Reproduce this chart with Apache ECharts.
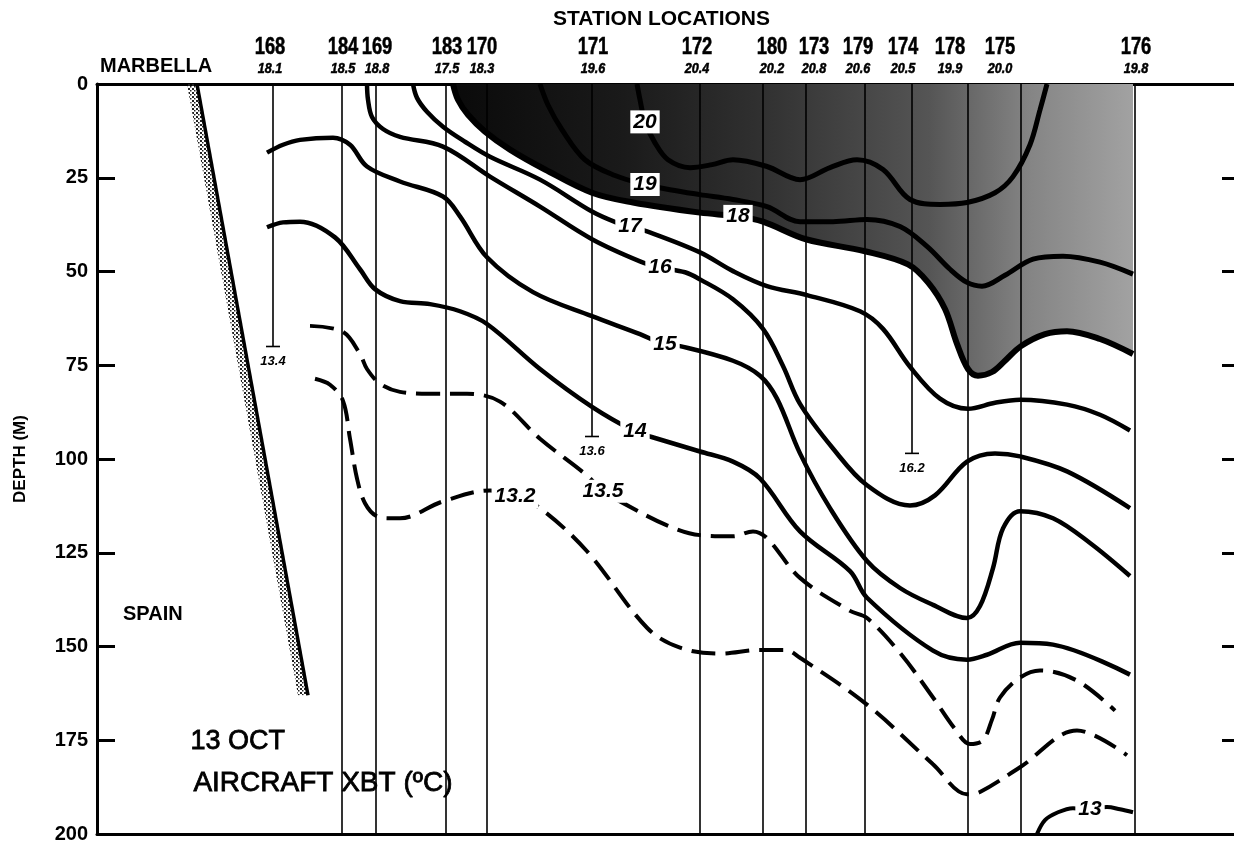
<!DOCTYPE html>
<html>
<head>
<meta charset="utf-8">
<script src="https://cdn.jsdelivr.net/npm/echarts@6/dist/echarts.min.js"></script>
<style>
  html, body { margin: 0; padding: 0; background: #fff; }
  #chart { width: 1234px; height: 844px; }
</style>
</head>
<body>
<div id="chart"></div>
<script>
// XBT stations along the section: along-track distance (plot units), surface
// temperature, depth reached by the probe and the reading at that depth.
const stationNames = ['168', '184', '169', '183', '170', '171', '172', '180', '173', '179', '174', '178', '175', '176'];
const stationDist  = [176, 245, 279, 349, 390, 495, 603, 666, 709, 768, 815, 871, 924, 1038];
const surfaceTemp  = ['18.1', '18.5', '18.8', '17.5', '18.3', '19.6', '20.4', '20.2', '20.8', '20.6', '20.5', '19.9', '20.0', '19.8'];
const castDepth    = [70, 200, 200, 200, 200, 94, 200, 200, 200, 200, 98.5, 200, 200, 200];
const bottomTemp   = ['13.4', '', '', '', '', '13.6', '', '', '', '', '16.2', '', '', ''];

const depthTicks = [0, 25, 50, 75, 100, 125, 150, 175, 200];

// Spanish shelf slope: [distance, depth]
const coastline = [[100, 0], [211, 163]];

// Isotherms, each as [distance, depth (m)]
const iso20 = [[540,0],[543,4.2],[548,10.1],[558,15.7],[571,20.2],[593,22.3],[615,21.5],[636,20.2],[670,22],[703,25.5],[733,22.3],[760,20.2],[786,22.8],[813,30.8],[843,32.1],[870,31.6],[898,29],[916,24.7],[933,16.2],[943,6.9],[950,0]];
const iso19 = [[443,0],[451,5.6],[465,12.2],[488,20.2],[518,24.4],[548,26.8],[573,28.2],[603,29.5],[636,30.8],[670,32.7],[703,36.7],[736,36.7],[770,36.1],[803,38],[830,43.3],[853,49.4],[870,52.9],[885,53.9],[908,51],[936,46.7],[966,45.9],[1003,47.5],[1036,50.7]];
const iso18 = [[356,0],[361,4.2],[371,8.2],[388,12.7],[413,17.5],[448,22.8],[495,29],[536,31.6],[603,34.3],[641,35.3],[666,36.7],[709,41.4],[768,44.6],[811,48.1],[831,52.9],[848,60],[860,69.3],[871,76],[881,77.8],[895,76.8],[908,73.8],[924,69.9],[948,66.7],[970,65.9],[1003,68],[1036,72]];
const iso17 = [[316,0],[320,3.7],[330,7.4],[346,11.4],[368,15.4],[393,19.4],[443,25.5],[495,34],[519,36.9],[533,38],[550,39.3],[603,44.9],[636,49.9],[670,53.9],[710,56.3],[763,60.6],[786,65.3],[813,75.4],[843,83.9],[871,86.6],[898,85],[923,84.2],[970,85.5],[1003,88.2],[1033,92.4]];
const iso16 = [[270,0],[271,4.2],[275,8.8],[286,12],[303,14.1],[346,16.7],[393,24.7],[443,32.7],[495,41.4],[543,47.3],[563,48.9],[588,50.2],[603,52.1],[636,57.4],[666,65.3],[686,75.2],[703,85.3],[736,97.2],[770,107],[813,112.4],[838,109.7],[870,100.7],[898,98.5],[923,99.3],[970,103.3],[1033,113.1]];
const iso15 = [[170,18.3],[186,16.2],[203,14.9],[236,14.3],[253,16.2],[270,22],[303,26],[346,30],[363,35.3],[390,46.2],[436,55.5],[495,61.9],[543,66.7],[566,69.3],[583,69.9],[636,73.8],[663,77.8],[680,83.9],[703,98.5],[733,113.1],[770,127.2],[803,134.4],[836,138.9],[870,142.4],[883,139.2],[896,129.1],[906,118.5],[923,113.9],[956,115.8],[993,122.4],[1033,131.2]];
const iso14 = [[170,38.2],[186,36.9],[203,36.7],[238,40.9],[263,49.4],[278,54.7],[303,57.9],[333,58.7],[363,60.6],[390,64],[443,76],[495,86.1],[538,92.7],[553,94],[603,98],[636,100.7],[663,105.2],[703,119.3],[753,129.9],[770,137],[836,151.1],[870,153.5],[890,152.2],[923,149],[956,149.5],[1033,157.5]];
const iso135 = [[213,64.5],[246,66.1],[263,72],[270,76],[283,79.9],[303,82.1],[333,82.6],[370,82.6],[403,84.7],[443,94.6],[490,104.4],[506,108.6],[523,111.3],[570,117.7],[603,120.3],[636,120.6],[656,119.3],[670,121.1],[703,131.7],[753,140.5],[770,142.4],[803,151.7],[836,163.6],[858,172],[873,176],[886,175],[895,169.5],[903,163.6],[923,158.3],[943,156.4],[980,159.1],[1018,167.1]];
const iso132 = [[218,78.6],[233,80.2],[246,84.5],[253,94.6],[260,105.2],[268,111.8],[280,115.3],[293,115.8],[303,115.8],[346,111.3],[393,108.4],[418,110],[443,113.1],[490,124.6],[550,145],[583,150.3],[623,151.9],[663,150.9],[688,150.9],[703,153],[770,165.5],[836,181.4],[870,189.4],[883,188.8],[923,182.2],[980,172.4],[1030,179]];
const iso13 = [[940,200],[948,196.3],[961,194.2],[976,193.1],[993,193.4],[1010,192.8],[1023,193.4],[1036,194.2]];

// Isotherm labels: [distance, depth, text]
const isoLabels = [[548,10.1,'20'],[548,26.8,'19'],[641,35.3,'18'],[533,38,'17'],[563,48.9,'16'],[568,69.3,'15'],[538,92.7,'14'],[506,108.6,'13.5'],[418,110,'13.2'],[993,193.4,'13']];

const FONT = '"Liberation Sans", Arial, sans-serif';

// horizontal nudge (px) of each station heading, as typeset above its line
const headNudge = [-3, 1, 1, 1, -5, 1, -3, 9, 8, -7, -9, -18, -21, 1];

// dot texture for the stippled shore band
const dots = document.createElement('canvas');
dots.width = 4; dots.height = 4;
(function () {
  const g = dots.getContext('2d');
  g.fillStyle = '#222';
  g.fillRect(0, 0, 2, 2);
  g.fillRect(2, 2, 1.5, 1.5);
})();

function contour(name, data, width, dashed) {
  return {
    name: name, type: 'line', data: data, smooth: 0.35, symbol: 'none',
    silent: true, z: 3,
    lineStyle: { color: '#000', width: width, type: dashed ? [24, 10] : 'solid', cap: 'butt' }
  };
}

const chart = echarts.init(document.getElementById('chart'));
chart.setOption({
  animation: false,
  backgroundColor: '#fff',
  grid: { left: 97, right: 0, top: 84, bottom: 7 },
  xAxis: [
    { type: 'value', min: 0, max: 1137, position: 'bottom',
      axisLine: { show: true, onZero: false, lineStyle: { color: '#000', width: 3 } },
      axisTick: { show: false }, axisLabel: { show: false }, splitLine: { show: false } },
    { type: 'value', min: 0, max: 1137, position: 'top',
      axisLine: { show: true, onZero: false, lineStyle: { color: '#000', width: 3 } },
      axisTick: { show: false }, axisLabel: { show: false }, splitLine: { show: false } }
  ],
  yAxis: [
    { type: 'value', inverse: true, min: 0, max: 200, interval: 25,
      name: 'DEPTH (M)', nameLocation: 'middle', nameGap: 68, nameRotate: 90,
      nameTextStyle: { color: '#000', fontFamily: FONT, fontWeight: 'bold', fontSize: 17 },
      axisLine: { show: true, onZero: false, lineStyle: { color: '#000', width: 3 } },
      axisTick: { show: true, inside: true, length: 18, lineStyle: { color: '#000', width: 3 } },
      axisLabel: { color: '#000', fontFamily: FONT, fontWeight: 'bold', fontSize: 20, margin: 9,
        formatter: v => depthTicks.indexOf(v) >= 0 ? String(v) : '' },
      splitLine: { show: false } },
    { type: 'value', inverse: true, min: 0, max: 200, interval: 25, position: 'right',
      axisLine: { show: false, onZero: false },
      axisTick: { show: true, inside: true, length: 12, lineStyle: { color: '#000', width: 3 } },
      axisLabel: { show: false }, splitLine: { show: false } }
  ],
  graphic: [
    { type: 'text', left: 553, top: 9, style: { text: 'STATION LOCATIONS', fill: '#000', font: 'bold 21px ' + FONT } },
    { type: 'text', left: 100, top: 56, style: { text: 'MARBELLA', fill: '#000', font: 'bold 20px ' + FONT } },
    { type: 'text', left: 123, top: 604, style: { text: 'SPAIN', fill: '#000', font: 'bold 20px ' + FONT } },
    { type: 'text', left: 190, top: 728, style: { text: '13 OCT', fill: '#000', stroke: '#000', lineWidth: 0.8, font: '27px ' + FONT } },
    { type: 'text', left: 193, top: 769, style: { text: 'AIRCRAFT XBT (ºC)', fill: '#000', stroke: '#000', lineWidth: 0.8, font: '28px ' + FONT } }
  ],
  series: [
    // water warmer than 18 °C, shaded
    { name: '18', type: 'line', data: iso18, smooth: 0.35, symbol: 'none', silent: true, z: 1,
      lineStyle: { color: '#000', width: 6 },
      areaStyle: { origin: 'start', opacity: 1,
        color: new echarts.graphic.LinearGradient(0, 0, 1, 0, [
          { offset: 0, color: '#0a0a0a' },
          { offset: 0.25, color: '#1a1a1a' },
          { offset: 0.45, color: '#303030' },
          { offset: 0.7, color: '#555' },
          { offset: 0.85, color: '#858585' },
          { offset: 1, color: '#a2a2a2' }
        ]) } },
    // XBT drop lines and station headings
    { name: 'stations', type: 'custom', silent: true, z: 2, clip: false,
      data: stationDist.map((d, i) => [d, castDepth[i]]),
      renderItem: function (params, api) {
        const i = params.dataIndex;
        const top = api.coord([api.value(0), 0]);
        const end = api.coord([api.value(0), api.value(1)]);
        const hx = top[0] + headNudge[i];
        const kids = [
          { type: 'line', shape: { x1: top[0], y1: top[1], x2: end[0], y2: end[1] },
            style: { stroke: '#000', lineWidth: 1.6 } },
          { type: 'text', x: hx, y: top[1] - 36, scaleX: 0.8,
            style: { text: stationNames[i], x: 0, y: 0, stroke: '#000', lineWidth: 0.5,
            align: 'center', verticalAlign: 'middle', fill: '#000', font: 'bold 23px ' + FONT } },
          { type: 'text', x: hx, y: top[1] - 15, scaleX: 0.9,
            style: { text: surfaceTemp[i], x: 0, y: 0, stroke: '#000', lineWidth: 0.5,
            align: 'center', verticalAlign: 'middle', fill: '#000', font: 'italic bold 14px ' + FONT } }
        ];
        if (bottomTemp[i]) {
          kids.push({ type: 'line', shape: { x1: end[0] - 7, y1: end[1], x2: end[0] + 7, y2: end[1] },
            style: { stroke: '#000', lineWidth: 1.6 } });
          kids.push({ type: 'text', style: { text: bottomTemp[i], x: end[0], y: end[1] + 15,
            align: 'center', verticalAlign: 'middle', fill: '#000', font: 'italic bold 13px ' + FONT } });
        }
        return { type: 'group', children: kids };
      } },
    // shoreline with stippled band
    { name: 'coast', type: 'custom', silent: true, z: 2,
      data: [[coastline[0][0], coastline[0][1], coastline[1][0], coastline[1][1]]],
      renderItem: function (params, api) {
        const p0 = api.coord([api.value(0), api.value(1)]);
        const p1 = api.coord([api.value(2), api.value(3)]);
        return { type: 'group', children: [
          { type: 'polygon', shape: { points: [p0, p1, [p1[0] - 10, p1[1]], [p0[0] - 10, p0[1]]] },
            style: { fill: { image: dots, repeat: 'repeat' } } },
          { type: 'line', shape: { x1: p0[0], y1: p0[1], x2: p1[0], y2: p1[1] },
            style: { stroke: '#000', lineWidth: 3.5 } }
        ] };
      } },
    contour('20', iso20, 5, false),
    contour('19', iso19, 5, false),
    contour('17', iso17, 4.5, false),
    contour('16', iso16, 4.5, false),
    contour('15', iso15, 4.5, false),
    contour('14', iso14, 4.5, false),
    contour('13.5', iso135, 4, true),
    contour('13.2', iso132, 4, true),
    contour('13', iso13, 4, false),
    // isotherm labels
    { name: 'labels', type: 'scatter', data: isoLabels, symbolSize: 1, silent: true, z: 5,
      itemStyle: { color: 'rgba(0,0,0,0)', opacity: 1 },
      label: { show: true, position: 'inside', formatter: p => p.value[2], opacity: 1,
        color: '#000', fontFamily: FONT, fontStyle: 'italic', fontWeight: 'bold', fontSize: 21,
        backgroundColor: '#fff', padding: [1, 3] } }
  ]
});
</script>
</body>
</html>
